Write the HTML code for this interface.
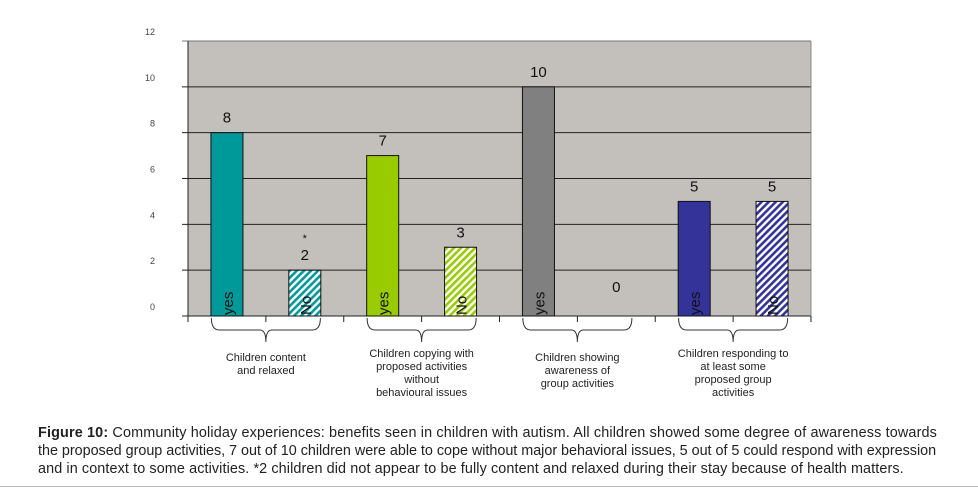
<!DOCTYPE html>
<html><head><meta charset="utf-8">
<style>
body{margin:0;background:#fff;width:978px;height:489px;overflow:hidden;font-family:"Liberation Sans",Arial,sans-serif}
#cap{position:absolute;left:38px;top:424px;white-space:nowrap;font-size:14.4px;line-height:18px;color:#222}
#l1{letter-spacing:0.15px}
#l2{letter-spacing:-0.03px}
#l3{letter-spacing:0.1px}
#rule{position:absolute;left:0;top:486px;width:978px;height:1px;background:#bbb}
</style></head><body>
<svg id="chart" width="978" height="420" style="position:absolute;left:0;top:0" xmlns="http://www.w3.org/2000/svg">
<defs>
<pattern id="h0" width="5" height="5" patternUnits="userSpaceOnUse" patternTransform="rotate(45)"><rect width="5" height="5" fill="#fff"/><rect width="2.6" height="5" fill="#009999"/></pattern>
<pattern id="h1" width="5" height="5" patternUnits="userSpaceOnUse" patternTransform="rotate(45)"><rect width="5" height="5" fill="#fff"/><rect width="2.6" height="5" fill="#99cc00"/></pattern>
<pattern id="h2" width="5" height="5" patternUnits="userSpaceOnUse" patternTransform="rotate(45)"><rect width="5" height="5" fill="#fff"/><rect width="2.6" height="5" fill="#808080"/></pattern>
<pattern id="h3" width="5" height="5" patternUnits="userSpaceOnUse" patternTransform="rotate(45)"><rect width="5" height="5" fill="#fff"/><rect width="2.6" height="5" fill="#333399"/></pattern>
</defs>
<g id="g"></g>
</svg>
<div id="cap"><span id="l1"><b>Figure 10:</b> Community holiday experiences: benefits seen in children with autism. All children showed some degree of awareness towards</span><br><span id="l2">the proposed group activities, 7 out of 10 children were able to cope without major behavioral issues, 5 out of 5 could respond with expression</span><br><span id="l3">and in context to some activities. *2 children did not appear to be fully content and relaxed during their stay because of health matters.</span></div>
<div id="rule"></div>
<script>
const categories=[["Children content","and relaxed"],["Children copying with","proposed activities","without","behavioural issues"],["Children showing","awareness of","group activities"],["Children responding to","at least some","proposed group","activities"]];
const yesValues=[8,7,10,5];
const noValues=[2,3,0,5];
const colors=["#009999","#99cc00","#808080","#333399"];
const yTicks=[0,2,4,6,8,10,12];
const X0=188,X1=811,Y0=316,Y12=41;
const y=v=>Y0-(Y0-Y12)*v/12;
const slot=(X1-X0)/8;
const g=document.getElementById('g');
const NS="http://www.w3.org/2000/svg";
function mk(t,a,txt){const e=document.createElementNS(NS,t);for(const k in a)e.setAttribute(k,a[k]);if(txt!=null)e.textContent=txt;g.appendChild(e);return e;}
let e=mk('rect',{x:X0,y:Y12,width:X1-X0,height:Y0-Y12,fill:'#c3bfbb'});

yTicks.forEach(t=>{
 let l=mk('line',{x1:X0-6,x2:X1,y1:y(t),y2:y(t),stroke:t==12?'#777':'#222','stroke-width':1});
 
 let tx=mk('text',{x:155,y:y(t)-6,'font-size':9,fill:'#444','text-anchor':'end'},t);
 
});
mk('line',{x1:X0,x2:X0,y1:Y12,y2:Y0+6,stroke:'#222'});
mk('line',{x1:X1,x2:X1,y1:Y12,y2:Y0,stroke:'#888'});
for(let i=0;i<=8;i++){let t=mk('line',{x1:X0+i*slot,x2:X0+i*slot,y1:Y0,y2:Y0+6,stroke:'#222'});}
const bw=32;
categories.forEach((c,i)=>{
 [[yesValues[i],colors[i],'yes',0],[noValues[i],'url(#h'+i+')','No',1]].forEach(([v,f,lab,k])=>{
  const cx=X0+slot*(2*i+k+0.5);
  if(v>0){
   let r=mk('rect',{x:cx-bw/2,y:y(v),width:bw,height:Y0-y(v),fill:f,stroke:'#111','stroke-width':1});
   
   let bl=mk('text',{x:0,y:0,'font-size':15,fill:'#111',transform:`translate(${cx+6},${Y0-1}) rotate(-90)`},lab);
   
  }
  let vl=mk('text',{x:cx,y:y(v)-10-(v==0?14:0),'font-size':15,'text-anchor':'middle',fill:'#111'},v);
  
  if(i==0&&k==1){let s=mk('text',{x:cx,y:y(v)-28,'font-size':11,'text-anchor':'middle',fill:'#111'},'*');}
 });
 const gx=X0+slot*(2*i+1);
 const l=X0+slot*2*i+slot*0.3, r=X0+slot*2*i+slot*1.7;
 let b=mk('path',{d:`M${l},${Y0+2} Q${l},${Y0+14} ${l+8},${Y0+14} L${gx-6},${Y0+14} Q${gx},${Y0+14} ${gx},${Y0+26} Q${gx},${Y0+14} ${gx+6},${Y0+14} L${r-8},${Y0+14} Q${r},${Y0+14} ${r},${Y0+2}`,fill:'none',stroke:'#333','stroke-width':1});
 
 let t=mk('text',{x:gx,y:0,'font-size':11,'text-anchor':'middle',fill:'#222'});
 
 c.forEach((ln,j)=>{const s=document.createElementNS(NS,'tspan');s.setAttribute('x',gx);s.setAttribute('y',(i%2?357:361)+j*13);s.textContent=ln;t.appendChild(s);});
});
</script>
</body></html>
